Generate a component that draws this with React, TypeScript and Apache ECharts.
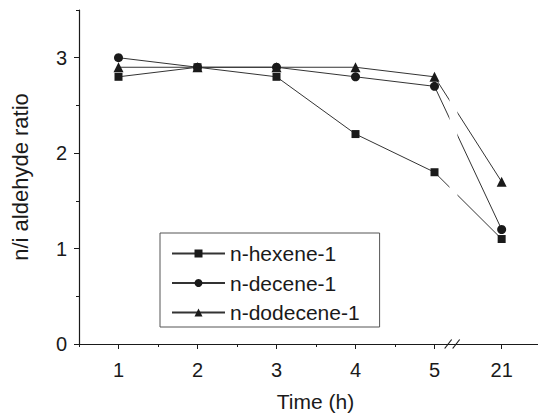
import React, { useEffect, useRef } from 'react';
import * as echarts from 'echarts';

// Data
const timeLabels = ['1', '2', '3', '4', '5', '21'];
// position of each time on the (broken) x axis: 5 → 21 is compressed
const axisPos = [1, 2, 3, 4, 5, 5.85];
const hexene = [2.8, 2.9, 2.8, 2.2, 1.8, 1.1];
const decene = [3.0, 2.9, 2.9, 2.8, 2.7, 1.2];
const dodecene = [2.9, 2.9, 2.9, 2.9, 2.8, 1.7];
const seriesNames = ['n-hexene-1', 'n-decene-1', 'n-dodecene-1'];
const seriesSymbols = ['rect', 'circle', 'triangle'];
const seriesSizes = [8, 9, 10];
const yMajorTicks = [0, 1, 2, 3];
const xMinorTicks = [0.5, 1.5, 2.5, 3.5, 4.5];
const breakAt = 5.23;
const gapFrom = 5.19;
const gapTo = 5.29;

const FONT = 'Liberation Sans, Arial, Helvetica, sans-serif';
const INK = '#1a1a1a';

export default function App() {
  const ref = useRef<HTMLDivElement>(null);
  useEffect(() => {
    if (!ref.current) return;
    const chart = echarts.init(ref.current, undefined, { renderer: 'svg' });
    const allSeries = [hexene, decene, dodecene];
    const option: any = {
      animation: false,
      backgroundColor: '#fff',
      grid: { left: 79, right: 0, top: 10, bottom: 72, containLabel: false },
      legend: {
        orient: 'vertical',
        left: 160,
        top: 233,
        data: seriesNames,
        itemWidth: 53,
        itemHeight: 10,
        itemGap: 8.5,
        padding: [10, 20, 4, 11],
        borderColor: '#555',
        borderWidth: 1,
        backgroundColor: '#fff',
        textStyle: { fontFamily: FONT, fontSize: 21, color: INK, lineHeight: 20 },
      },
      xAxis: [
        {
          type: 'value',
          min: 0.5,
          max: 6.31,
          position: 'bottom',
          axisLine: { show: true, lineStyle: { color: INK, width: 1.2 } },
          axisTick: { show: true, customValues: xMinorTicks, length: 3, lineStyle: { color: INK } },
          axisLabel: { show: false },
          splitLine: { show: false },
        },
        {
          type: 'value',
          min: 0.5,
          max: 6.31,
          position: 'bottom',
          axisLine: { show: false },
          axisTick: { show: true, customValues: axisPos, length: 5, lineStyle: { color: INK } },
          axisLabel: {
            show: true,
            customValues: axisPos,
            margin: 16,
            fontFamily: FONT,
            fontSize: 20,
            color: INK,
            formatter: (v: number) => {
              const i = axisPos.findIndex((p) => Math.abs(p - v) < 1e-6);
              return i >= 0 ? timeLabels[i] : '';
            },
          },
          splitLine: { show: false },
          name: 'Time (h)',
          nameLocation: 'middle',
          nameGap: 47,
          nameTextStyle: { fontFamily: FONT, fontSize: 21, color: INK, padding: [0, 0, 0, 14] },
        },
      ],
      yAxis: [
        {
          type: 'value',
          min: 0,
          max: 3.5,
          interval: 0.5,
          position: 'left',
          axisLine: { show: true, lineStyle: { color: INK, width: 1.2 } },
          axisTick: { show: true, length: 3, lineStyle: { color: INK } },
          axisLabel: {
            show: true,
            margin: 12,
            fontFamily: FONT,
            fontSize: 20,
            color: INK,
            formatter: (v: number) => (yMajorTicks.includes(v) ? String(v) : ''),
          },
          splitLine: { show: false },
          name: 'n/i aldehyde ratio',
          nameLocation: 'middle',
          nameGap: 48,
          nameTextStyle: { fontFamily: FONT, fontSize: 22, color: INK },
        },
        {
          type: 'value',
          min: 0,
          max: 3.5,
          position: 'left',
          axisLine: { show: false },
          axisTick: { show: true, customValues: yMajorTicks, length: 5, lineStyle: { color: INK } },
          axisLabel: { show: false },
          splitLine: { show: false },
        },
      ],
      series: allSeries.map((vals, si) => ({
        name: seriesNames[si],
        type: 'line',
        xAxisIndex: 0,
        yAxisIndex: 0,
        data: vals.map((v, i) => [axisPos[i], v]),
        symbol: seriesSymbols[si],
        symbolSize: seriesSizes[si],
        showSymbol: true,
        itemStyle: { color: INK },
        lineStyle: { color: '#333', width: 1 },
        z: 3,
      })),
    };
    chart.setOption(option);

    const gx1 = chart.convertToPixel({ xAxisIndex: 0 }, gapFrom) as number;
    const gx2 = chart.convertToPixel({ xAxisIndex: 0 }, gapTo) as number;
    const bx = chart.convertToPixel({ xAxisIndex: 0 }, breakAt) as number;
    const y0 = chart.convertToPixel({ yAxisIndex: 0 }, 0) as number;
    const yTop = chart.convertToPixel({ yAxisIndex: 0 }, 3.5) as number;

    chart.setOption({
      graphic: [
        {
          type: 'rect',
          z: 100,
          shape: { x: gx1, y: yTop, width: gx2 - gx1, height: y0 - yTop - 2 },
          style: { fill: '#fff' },
        },
        {
          type: 'line',
          z: 101,
          shape: { x1: bx - 8, y1: y0 + 4.5, x2: bx - 1, y2: y0 - 4.5 },
          style: { stroke: INK, lineWidth: 1.2 },
        },
        {
          type: 'line',
          z: 101,
          shape: { x1: bx, y1: y0 + 4.5, x2: bx + 7, y2: y0 - 4.5 },
          style: { stroke: INK, lineWidth: 1.2 },
        },
      ],
    });

    return () => chart.dispose();
  }, []);
  return <div ref={ref} style={{ width: 538, height: 417, position: 'absolute', left: 0, top: 0 }} />;
}
